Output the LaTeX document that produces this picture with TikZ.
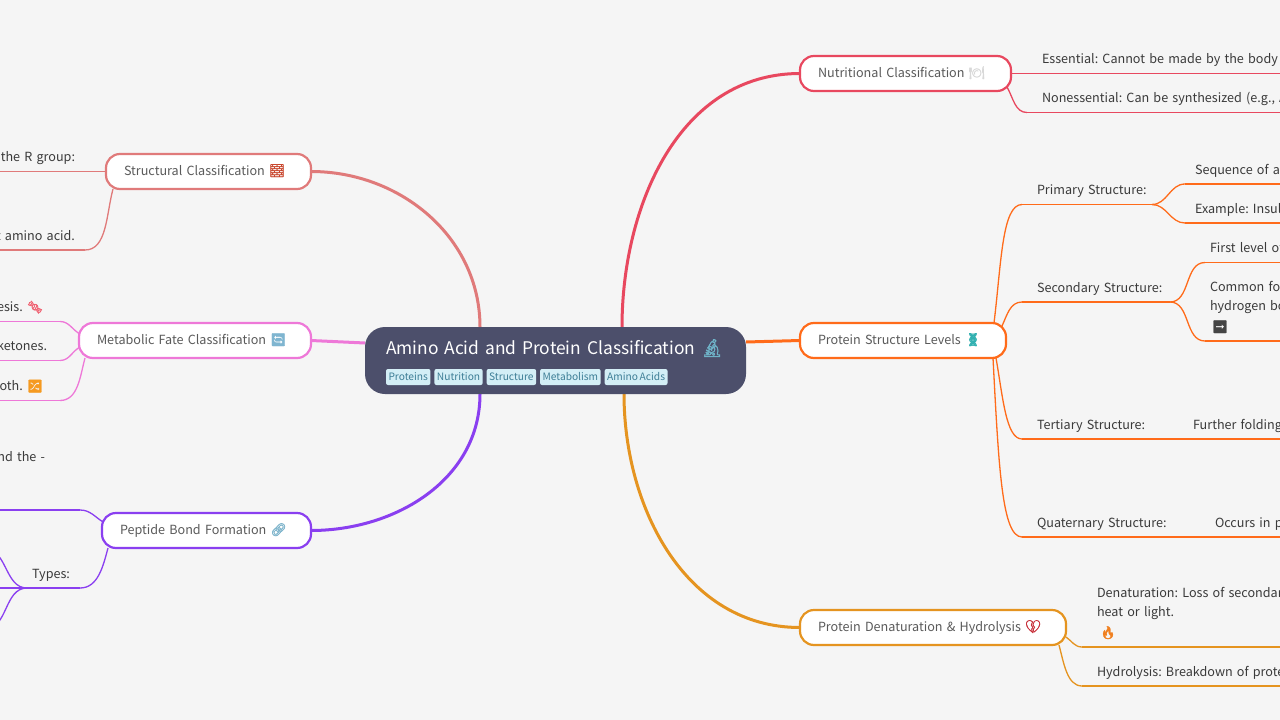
\documentclass[tikz,border=0pt]{standalone}
\usepackage{fontspec}
\usepackage{color}
\setmainfont[WordSpace=0.75]{Noto Sans CJK SC}
\newfontfamily\emojifont[AutoFakeBold=2]{Noto Emoji}
\usetikzlibrary{positioning,backgrounds}
\frenchspacing
\definecolor{pagebg}{HTML}{F5F5F5}
\definecolor{rootbg}{HTML}{4C4F6B}
\definecolor{tagbg}{HTML}{D3EEF6}
\definecolor{tagfg}{HTML}{3E7E96}
\definecolor{inktext}{HTML}{3A3A3A}
\definecolor{boxtext}{HTML}{5A5A5A}
\definecolor{structcol}{HTML}{E07A7A}
\definecolor{metabcol}{HTML}{EE78D8}
\definecolor{peptcol}{HTML}{8A3FF0}
\definecolor{nutricol}{HTML}{E8485F}
\definecolor{levelcol}{HTML}{FF6B1A}
\definecolor{denatcol}{HTML}{E59420}
\newcommand{\emo}[2]{{\color[HTML]{#1}\emojifont\bfseries #2}}

\begin{document}
\begin{tikzpicture}[x=1pt,y=-1pt,font=\fontsize{12.6}{19}\selectfont\frenchspacing,
		rootbox/.style={anchor=north west,fill=rootbg,rounded corners=20pt,text=white,outer sep=0pt,inner xsep=21pt,inner ysep=0pt,text width=339pt,align=left,text height=27pt,text depth=40pt,font=\fontsize{17.4}{24}\selectfont},
		tag/.style={fill=tagbg,text=tagfg,rounded corners=2pt,outer sep=0pt,inner xsep=2.5pt,inner ysep=0pt,text height=11pt,text depth=5pt,font=\fontsize{10.2}{13}\selectfont},
		topic/.style={anchor=west,draw=#1,fill=white,line width=2.2pt,rounded corners=14pt,text=boxtext,outer sep=0pt,inner xsep=18pt,inner ysep=0pt,align=left,text height=21pt,text depth=14pt},
		leafr/.style={anchor=south west,text=inktext,outer sep=0pt,inner xsep=0pt,inner ysep=7pt,text width=#1,align=left,text depth=3pt,execute at begin node={\leftskip=15pt}},
		leafl/.style={anchor=south east,text=inktext,outer sep=0pt,inner xsep=0pt,inner ysep=7pt,text width=130pt,align=right,text depth=3pt,execute at begin node={\rightskip=#1}},
		trunk/.style={draw=#1,line width=3pt},
		twig/.style={draw=#1,line width=1.3pt}]
	\useasboundingbox (0,0) rectangle (1280,720);
	
	\node[rootbox] (root) at (365,327) {Amino Acid and Protein Classification \emo{6FB3C8}{🔬}};
	\node[tag,anchor=west] (proteins) at (386,377) {Proteins};
	\node[tag] (nutrition) [right=4pt of proteins] {Nutrition};
	\node[tag] (structure) [right=4pt of nutrition] {Structure};
	\node[tag] (metabolism) [right=4pt of structure] {Metabolism};
	\node[tag] (aminoacids) [right=4pt of metabolism] {Amino Acids};
	
	\node[topic=structcol,text width=169pt] (structural) at (106,171.5) {Structural Classification \emo{C8452C}{🧱}};
	\node[topic=metabcol,text width=196pt] (metabolic) at (79,340.5) {Metabolic Fate Classification \emo{7FB5D0}{🔄}};
	\node[topic=peptcol,text width=173pt] (peptide) at (102,530.5) {Peptide Bond Formation \emo{7FB5CC}{🔗}};
	\node[topic=nutricol,text width=175pt] (nutritional) at (800,73.5) {Nutritional Classification \emo{D8D8D8}{🍽}};
	\node[topic=levelcol,text width=170pt] (levels) at (800,340.5) {Protein Structure Levels \emo{30B0B0}{🧬}};
	\node[topic=denatcol,text width=230pt] (denat) at (800,627.5) {Protein Denaturation \& Hydrolysis \emo{C8303A}{💔}};
	
	\node[leafl=10pt] (rgroup) at (85,171.5) {the R group:};
	\node[leafl=10pt] (aminoacid) at (85,250) {t amino acid.};
	\node[leafl=17pt] (genesis) at (60,321.5) {esis. \emo{F06070}{🍬}};
	\node[leafl=13pt] (ketones) at (60,360.5) {ketones.};
	\node[leafl=17pt] (both) at (60,400.5) {oth. \emo{F59A20}{🔀}};
	\node[leafl=35pt,text depth=42pt] (bondend) at (80,510) {nd the -};
	\node[leafl=10pt,text width=53pt] (types) at (80,588) {Types:};
	\coordinate (typesup) at (-15,549);
	\coordinate (typesmid) at (-15,588);
	\coordinate (typesdown) at (-15,629);
	
	\node[leafr=300pt] (essential) at (1027,73.5) {Essential: Cannot be made by the body (};
	\node[leafr=300pt] (nonessential) at (1027,112.5) {Nonessential: Can be synthesized (e.g., A};
	\node[leafr=130pt] (primary) at (1022,204.5) {Primary Structure:};
	\node[leafr=148pt] (secondary) at (1022,302) {Secondary Structure:};
	\node[leafr=156pt] (tertiary) at (1022,439) {Tertiary Structure:};
	\node[leafr=178pt] (quaternary) at (1022,537) {Quaternary Structure:};
	\node[leafr=200pt,execute at begin node={\leftskip=10pt}] (sequence) at (1185,184) {Sequence of am};
	\node[leafr=200pt,execute at begin node={\leftskip=10pt}] (insulin) at (1185,223) {Example: Insulin};
	\node[leafr=200pt,execute at begin node={\leftskip=5pt}] (firstlevel) at (1205,262.5) {First level of};
	\node[leafr=200pt,execute at begin node={\leftskip=5pt},text depth=43pt] (commonfold) at (1205,341) {Common fo\\hydrogen bo\\[2pt]\hspace*{2pt}\emo{444444}{➡}};
	\node[leafr=200pt] (folding) at (1178,439) {Further folding};
	\node[leafr=200pt] (occurs) at (1200,537) {Occurs in p};
	\node[leafr=300pt,text depth=43pt] (denaturation) at (1082,647) {Denaturation: Loss of secondar\\heat or light.\\[2pt]\hspace*{3pt}\emo{F08020}{🔥}};
	\node[leafr=300pt] (hydrolysis) at (1082,686) {Hydrolysis: Breakdown of prote};
	
	\begin{pgfonlayer}{background}
		\fill[pagebg] (0,0) rectangle (1280,720);
		
		\path[trunk=structcol] (structural.east) edge [out=0,in=90] ([xshift=-75.5pt]root.north);
		\path[trunk=metabcol] (metabolic.east) edge ([shift={(0,-17.5)}]root.west);
		\path[trunk=peptcol] (peptide.east) edge [out=0,in=-90] ([xshift=-75.5pt]root.south);
		\path[trunk=nutricol] (nutritional.west) edge [out=180,in=90] ([xshift=66.5pt]root.north);
		\path[trunk=levelcol] (levels.west) edge ([shift={(0,-18.5)}]root.east);
		\path[trunk=denatcol] (denat.west) edge [out=180,in=-90] ([xshift=68.5pt]root.south);
		
		\path[twig=structcol]
		(structural.west) edge (rgroup.south east)
		(rgroup.south east) edge (rgroup.south west)
		([shift={(7,0)}]structural.south west) edge [out=-105,in=0,in distance=22pt] (aminoacid.south east)
		(aminoacid.south east) edge (aminoacid.south west);
		
		\path[twig=metabcol]
		([shift={(2,-6)}]metabolic.west) edge [out=155,in=0] (genesis.south east)
		(genesis.south east) edge (genesis.south west)
		([shift={(2,6)}]metabolic.west) edge [out=205,in=0] (ketones.south east)
		(ketones.south east) edge (ketones.south west)
		([shift={(6,0)}]metabolic.south west) edge [out=-105,in=0,in distance=18pt] (both.south east)
		(both.south east) edge (both.south west);
		
		\path[twig=peptcol]
		([shift={(2,-8)}]peptide.west) edge [out=150,in=0] (bondend.south east)
		(bondend.south east) edge (bondend.south west)
		([shift={(6,0)}]peptide.south west) edge [out=-105,in=0,in distance=18pt] (types.south east)
		(types.south east) edge (types.south west)
		(types.south west) edge [out=180,in=0] (typesup)
		(types.south west) edge (typesmid)
		(types.south west) edge [out=180,in=0] (typesdown);
		
		\path[twig=nutricol]
		(nutritional.east) edge (essential.south west)
		(essential.south west) edge (essential.south east)
		([shift={(-4,-4)}]nutritional.south east) edge [out=-60,in=180,in distance=12pt] (nonessential.south west)
		(nonessential.south west) edge (nonessential.south east);
		
		\path[twig=levelcol]
		([xshift=-12pt]levels.north east) edge [out=83,in=180,out distance=60pt,in distance=20pt] (primary.south west)
		(primary.south west) edge (primary.south east)
		([shift={(-4,3)}]levels.north east) edge [out=65,in=180,in distance=12pt] (secondary.south west)
		(secondary.south west) edge (secondary.south east)
		([xshift=-10pt]levels.south east) edge [out=-80,in=180,out distance=40pt,in distance=16pt] (tertiary.south west)
		(tertiary.south west) edge (tertiary.south east)
		([xshift=-13pt]levels.south east) edge [out=-87,in=180,out distance=110pt,in distance=20pt] (quaternary.south west)
		(quaternary.south west) edge (quaternary.south east)
		(primary.south east) edge [out=0,in=180] (sequence.south west)
		(primary.south east) edge [out=0,in=180] (insulin.south west)
		(sequence.south west) edge (sequence.south east)
		(insulin.south west) edge (insulin.south east)
		(secondary.south east) edge [out=0,in=180] (firstlevel.south west)
		(secondary.south east) edge [out=0,in=180] (commonfold.south west)
		(firstlevel.south west) edge (firstlevel.south east)
		(commonfold.south west) edge (commonfold.south east)
		(tertiary.south east) edge (folding.south west)
		(folding.south west) edge (folding.south east)
		(quaternary.south east) edge (occurs.south west)
		(occurs.south west) edge (occurs.south east);
		
		\path[twig=denatcol]
		([shift={(0,-8)}]denat.south east) edge [out=-35,in=180] (denaturation.south west)
		(denaturation.south west) edge (denaturation.south east)
		([xshift=-7pt]denat.south east) edge [out=-75,in=180,in distance=15pt] (hydrolysis.south west)
		(hydrolysis.south west) edge (hydrolysis.south east);
	\end{pgfonlayer}
\end{tikzpicture}
\end{document}
